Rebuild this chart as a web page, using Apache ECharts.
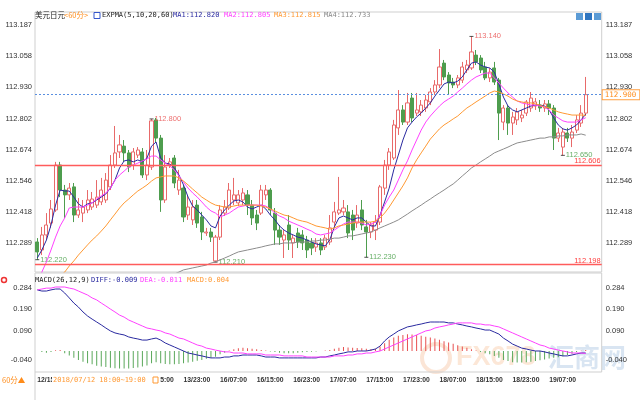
<!DOCTYPE html>
<html><head><meta charset="utf-8">
<script src="https://cdn.jsdelivr.net/npm/echarts@6/dist/echarts.min.js"></script>
<style>html,body{margin:0;padding:0;background:#fff}#c{width:640px;height:400px}</style>
</head><body><div id="c"></div>
<script>
// ---- categories (hourly bars) ----
const categories = [
'12/15:00','12/16:00','12/17:00','12/18:00','12/19:00','12/20:00','12/21:00','12/22:00','12/23:00',
'13/00:00','13/01:00','13/02:00','13/03:00','13/04:00','13/05:00','13/06:00','13/07:00','13/08:00','13/09:00','13/10:00','13/11:00','13/12:00','13/13:00','13/14:00','13/15:00','13/16:00','13/17:00','13/18:00','13/19:00','13/20:00','13/21:00','13/22:00','13/23:00',
'14/00:00','14/01:00','14/02:00','14/03:00','14/04:00',
'16/05:00','16/06:00','16/07:00','16/08:00','16/09:00','16/10:00','16/11:00','16/12:00','16/13:00','16/14:00','16/15:00','16/16:00','16/17:00','16/18:00','16/19:00','16/20:00','16/21:00','16/22:00','16/23:00',
'17/00:00','17/01:00','17/02:00','17/03:00','17/04:00','17/05:00','17/06:00','17/07:00','17/08:00','17/09:00','17/10:00','17/11:00','17/12:00','17/13:00','17/14:00','17/15:00','17/16:00','17/17:00','17/18:00','17/19:00','17/20:00','17/21:00','17/22:00','17/23:00',
'18/00:00','18/01:00','18/02:00','18/03:00','18/04:00','18/05:00','18/06:00','18/07:00','18/08:00','18/09:00','18/10:00','18/11:00','18/12:00','18/13:00','18/14:00','18/15:00','18/16:00','18/17:00','18/18:00','18/19:00','18/20:00','18/21:00','18/22:00','18/23:00',
'19/00:00','19/01:00','19/02:00','19/03:00','19/04:00','19/05:00','19/06:00','19/07:00','19/08:00','19/09:00','19/10:00','19/11:00','19/12:00','19/13:00','19/14:00','19/15:00',
'','',''];
const lastLabelIndex = 112;

// ---- OHLC ----
const open = [112.293,112.260,112.322,112.371,112.425,112.610,112.507,112.487,112.520,112.404,
112.412,112.425,112.437,112.445,112.458,112.466,112.520,112.610,112.664,112.688,
112.660,112.610,112.651,112.664,112.569,112.602,112.796,112.721,112.466,112.610,
112.639,112.507,112.515,112.404,112.384,112.445,112.396,112.330,112.334,112.215,
112.313,112.412,112.433,112.466,112.454,112.466,112.487,112.445,112.404,112.412,
112.487,112.507,112.412,112.342,112.301,112.363,112.289,112.330,112.322,112.301,
112.289,112.272,112.289,112.272,112.293,112.375,112.412,112.417,112.417,112.404,
112.371,112.425,112.355,112.334,112.342,112.375,112.515,112.610,112.639,112.763,
112.837,112.787,112.886,112.824,112.829,112.845,112.870,112.911,112.940,113.030,
112.981,112.952,112.940,112.960,113.002,113.010,113.063,113.051,113.014,112.969,
113.010,112.960,112.787,112.845,112.783,112.796,112.804,112.824,112.845,112.853,
112.857,112.845,112.862,112.845,112.721,112.684,112.742,112.721,112.754,112.783,
112.824];
const close = [112.252,112.322,112.363,112.429,112.610,112.507,112.487,112.515,112.404,112.425,
112.437,112.466,112.470,112.478,112.507,112.548,112.610,112.660,112.693,112.660,
112.602,112.664,112.672,112.569,112.610,112.792,112.721,112.466,112.602,112.623,
112.536,112.548,112.396,112.437,112.437,112.371,112.334,112.334,112.313,112.313,
112.425,112.437,112.507,112.487,112.487,112.495,112.445,112.392,112.371,112.507,
112.507,112.425,112.342,112.313,112.322,112.301,112.309,112.293,112.289,112.260,
112.268,112.289,112.260,112.309,112.351,112.417,112.425,112.433,112.330,112.342,
112.404,112.363,112.334,112.363,112.375,112.520,112.610,112.664,112.775,112.837,
112.787,112.866,112.804,112.837,112.857,112.878,112.911,112.940,113.014,112.973,
112.948,112.940,112.969,113.014,113.022,113.076,113.035,113.002,112.969,112.993,
112.952,112.824,112.845,112.783,112.808,112.829,112.816,112.870,112.886,112.870,
112.845,112.862,112.845,112.721,112.742,112.746,112.721,112.746,112.796,112.824,
112.900];
const low = [112.220,112.239,112.301,112.351,112.417,112.478,112.392,112.466,112.375,112.392,
112.375,112.412,112.425,112.433,112.445,112.454,112.507,112.598,112.639,112.623,
112.581,112.590,112.639,112.557,112.548,112.590,112.705,112.417,112.454,112.598,
112.515,112.487,112.375,112.384,112.363,112.351,112.301,112.318,112.293,112.210,
112.301,112.400,112.425,112.445,112.441,112.445,112.404,112.363,112.342,112.404,
112.466,112.404,112.281,112.281,112.227,112.260,112.227,112.268,112.260,112.227,
112.239,112.252,112.239,112.260,112.281,112.351,112.404,112.404,112.309,112.301,
112.351,112.342,112.230,112.309,112.301,112.363,112.487,112.590,112.631,112.734,
112.775,112.775,112.787,112.812,112.812,112.829,112.857,112.899,112.927,112.960,
112.899,112.927,112.927,112.948,112.989,113.002,113.022,112.989,112.960,112.952,
112.940,112.713,112.754,112.734,112.734,112.775,112.787,112.812,112.829,112.837,
112.829,112.829,112.816,112.672,112.705,112.650,112.705,112.684,112.742,112.767,
112.812];
const high = [112.309,112.355,112.412,112.466,112.623,112.623,112.528,112.536,112.536,112.474,
112.466,112.507,112.499,112.548,112.557,112.577,112.651,112.771,112.734,112.713,
112.672,112.680,112.684,112.680,112.672,112.800,112.804,112.734,112.651,112.639,
112.651,112.590,112.528,112.487,112.466,112.466,112.417,112.351,112.351,112.322,
112.445,112.466,112.536,112.557,112.507,112.515,112.507,112.466,112.425,112.528,
112.528,112.515,112.433,112.363,112.342,112.404,112.322,112.351,112.342,112.318,
112.309,112.309,112.309,112.322,112.404,112.458,112.561,112.466,112.445,112.425,
112.445,112.466,112.384,112.375,112.404,112.528,112.631,112.680,112.796,112.919,
112.857,112.907,112.907,112.907,112.878,112.899,112.927,112.960,113.088,113.043,
112.993,112.969,112.981,113.035,113.043,113.140,113.084,113.063,113.035,113.010,
113.035,112.969,112.857,112.857,112.829,112.845,112.837,112.878,112.911,112.886,
112.878,112.878,112.878,112.857,112.763,112.763,112.763,112.775,112.816,112.857,
112.973];

// ---- EXPMA lines ----
const ma1 = [112.227,112.260,112.301,112.363,112.445,112.507,112.503,112.503,112.478,112.450,
112.437,112.450,112.454,112.466,112.478,112.491,112.515,112.548,112.598,112.627,
112.631,112.623,112.631,112.623,112.639,112.688,112.705,112.639,112.618,112.614,
112.598,112.569,112.528,112.478,112.441,112.425,112.404,112.384,112.359,112.351,
112.400,112.425,112.445,112.462,112.466,112.458,112.437,112.429,112.437,112.445,
112.429,112.404,112.384,112.359,112.342,112.330,112.322,112.313,112.309,112.301,
112.293,112.285,112.281,112.277,112.301,112.355,112.392,112.400,112.392,112.384,
112.392,112.392,112.375,112.359,112.359,112.404,112.458,112.515,112.590,112.651,
112.713,112.763,112.787,112.808,112.824,112.845,112.866,112.894,112.919,112.944,
112.952,112.948,112.956,112.973,113.002,113.030,113.035,113.022,113.014,113.010,
112.993,112.944,112.890,112.853,112.837,112.829,112.837,112.845,112.853,112.857,
112.857,112.853,112.837,112.804,112.775,112.759,112.754,112.763,112.775,112.796,
112.820];
const ma2 = [112.116,112.169,112.211,112.260,112.313,112.359,112.392,112.433,112.437,112.437,
112.437,112.445,112.454,112.470,112.483,112.495,112.515,112.548,112.569,112.585,
112.602,112.610,112.618,112.627,112.635,112.647,112.647,112.631,112.618,112.606,
112.590,112.565,112.540,112.515,112.495,112.478,112.458,112.437,112.421,112.412,
112.396,112.404,112.412,112.425,112.437,112.441,112.445,112.445,112.445,112.445,
112.441,112.429,112.412,112.400,112.392,112.379,112.371,112.363,112.355,112.346,
112.338,112.326,112.322,112.326,112.330,112.342,112.355,112.367,112.375,112.375,
112.375,112.371,112.363,112.367,112.375,112.404,112.445,112.478,112.507,112.548,
112.590,112.627,112.672,112.713,112.754,112.787,112.812,112.833,112.853,112.870,
112.882,112.894,112.911,112.927,112.944,112.960,112.973,112.981,112.989,112.989,
112.969,112.948,112.927,112.907,112.890,112.874,112.866,112.862,112.857,112.857,
112.853,112.849,112.837,112.816,112.804,112.792,112.787,112.787,112.787,112.796,
112.805];
const ma3 = [112.033,112.062,112.087,112.108,112.132,112.153,112.169,112.194,112.215,112.239,
112.260,112.281,112.301,112.318,112.338,112.359,112.384,112.408,112.433,112.454,
112.470,112.487,112.503,112.515,112.528,112.544,112.557,112.561,112.565,112.565,
112.565,112.557,112.544,112.528,112.511,112.495,112.478,112.466,112.454,112.445,
112.441,112.437,112.437,112.441,112.445,112.445,112.445,112.445,112.445,112.441,
112.437,112.429,112.421,112.412,112.404,112.400,112.392,112.384,112.379,112.375,
112.367,112.359,112.355,112.351,112.346,112.351,112.359,112.363,112.367,112.371,
112.375,112.375,112.375,112.375,112.379,112.392,112.412,112.437,112.466,112.495,
112.524,112.557,112.598,112.631,112.660,112.688,112.717,112.738,112.759,112.775,
112.787,112.800,112.812,112.829,112.845,112.857,112.870,112.882,112.894,112.907,
112.915,112.911,112.903,112.894,112.882,112.874,112.870,112.866,112.866,112.862,
112.857,112.849,112.845,112.837,112.829,112.824,112.820,112.816,112.816,112.816,
112.815];
const ma4 = [null,null,null,null,null,null,null,null,null,null,
null,null,null,null,null,null,null,null,null,null,
null,null,null,null,null,null,null,null,null,null,
112.161,112.169,112.178,112.182,112.186,112.190,112.194,112.198,112.206,112.211,
112.219,112.227,112.235,112.244,112.252,112.256,112.260,112.264,112.268,112.272,
112.277,112.281,112.285,112.285,112.289,112.289,112.289,112.293,112.293,112.293,
112.297,112.297,112.301,112.301,112.305,112.309,112.309,112.313,112.318,112.318,
112.322,112.326,112.330,112.334,112.342,112.351,112.359,112.367,112.375,112.384,
112.396,112.408,112.421,112.433,112.445,112.458,112.470,112.483,112.495,112.507,
112.520,112.532,112.548,112.565,112.581,112.598,112.610,112.623,112.635,112.647,
112.660,112.668,112.676,112.684,112.693,112.701,112.705,112.709,112.713,112.717,
112.721,112.721,112.726,112.726,112.730,112.730,112.734,112.734,112.734,112.738,
112.733];

// ---- MACD(26,12,9) ----
const diff = [0.274,0.269,0.269,0.274,0.278,0.278,0.260,0.238,0.215,0.197,
0.175,0.157,0.143,0.130,0.117,0.103,0.090,0.081,0.076,0.072,
0.063,0.058,0.054,0.049,0.049,0.054,0.058,0.049,0.036,0.027,
0.018,0.009,0.000,-0.009,-0.013,-0.018,-0.022,-0.027,-0.031,-0.031,
-0.031,-0.027,-0.027,-0.022,-0.022,-0.018,-0.018,-0.018,-0.018,-0.022,
-0.027,-0.027,-0.027,-0.031,-0.031,-0.031,-0.031,-0.031,-0.031,-0.031,
-0.031,-0.031,-0.027,-0.027,-0.022,-0.018,-0.013,-0.009,-0.004,-0.004,
0.000,0.000,0.000,0.004,0.009,0.022,0.045,0.063,0.076,0.090,
0.099,0.108,0.112,0.117,0.121,0.126,0.130,0.130,0.130,0.130,
0.126,0.126,0.121,0.117,0.112,0.108,0.103,0.099,0.094,0.094,
0.085,0.076,0.058,0.045,0.031,0.022,0.013,0.009,0.004,0.000,
0.000,-0.004,-0.009,-0.013,-0.018,-0.022,-0.022,-0.018,-0.013,-0.009,
-0.009];
const dea = [0.274,0.278,0.282,0.282,0.287,0.287,0.287,0.282,0.278,0.269,
0.260,0.251,0.238,0.229,0.215,0.202,0.188,0.175,0.161,0.152,
0.139,0.130,0.121,0.112,0.103,0.099,0.094,0.090,0.081,0.076,
0.067,0.058,0.054,0.045,0.036,0.027,0.022,0.013,0.009,0.004,
0.000,-0.004,-0.004,-0.009,-0.009,-0.009,-0.013,-0.013,-0.013,-0.013,
-0.018,-0.018,-0.018,-0.018,-0.022,-0.022,-0.022,-0.022,-0.022,-0.027,
-0.027,-0.027,-0.027,-0.027,-0.027,-0.022,-0.022,-0.022,-0.018,-0.018,
-0.013,-0.013,-0.009,-0.009,-0.004,0.000,0.009,0.018,0.027,0.036,
0.045,0.054,0.063,0.072,0.081,0.090,0.094,0.103,0.108,0.112,
0.117,0.121,0.126,0.126,0.126,0.126,0.121,0.121,0.117,0.117,
0.112,0.108,0.099,0.090,0.081,0.072,0.063,0.054,0.045,0.036,
0.027,0.022,0.013,0.009,0.004,0.000,-0.004,-0.009,-0.009,-0.009,
-0.011];
const macd = [0.000,-0.005,-0.008,-0.005,0.003,0.004,-0.010,-0.020,-0.030,-0.040,
-0.048,-0.055,-0.060,-0.066,-0.070,-0.072,-0.075,-0.077,-0.078,-0.078,
-0.078,-0.076,-0.074,-0.070,-0.065,-0.055,-0.050,-0.055,-0.058,-0.060,
-0.060,-0.058,-0.055,-0.052,-0.048,-0.044,-0.040,-0.035,-0.030,-0.026,
-0.015,-0.008,0.002,0.008,0.012,0.014,0.012,0.010,0.008,0.005,
0.002,-0.002,-0.005,-0.008,-0.010,-0.010,-0.010,-0.008,-0.006,-0.004,
-0.003,-0.002,0.000,0.002,0.005,0.010,0.015,0.018,0.016,0.014,
0.013,0.012,0.010,0.008,0.010,0.020,0.035,0.050,0.060,0.068,
0.072,0.075,0.074,0.072,0.068,0.064,0.060,0.056,0.050,0.044,
0.038,0.032,0.026,0.020,0.014,0.008,0.002,-0.004,-0.010,-0.015,
-0.022,-0.030,-0.040,-0.045,-0.050,-0.052,-0.052,-0.050,-0.048,-0.045,
-0.042,-0.038,-0.034,-0.030,-0.028,-0.024,-0.018,-0.012,-0.005,0.001,
0.004];

// ---- axis ticks / reference levels / annotations ----
const priceTicks = [112.289,112.418,112.546,112.674,112.802,112.930,113.058,113.187];
const macdTicks = [-0.040,0.090,0.190,0.284];
const supportLevels = [112.606,112.198];
const lastPrice = 112.900;
const sideLabel = 112.792;
const extremeIdx = [0,25,39,72,95,115];
const extremeVal = [112.220,112.800,112.210,112.230,113.140,112.650];
const extremeIsHigh = [false,true,false,false,true,false];

const GREEN = '#3f9a3f', RED = '#e84c4c', LINE_RED = '#ff5c5c';
const MONO = '"DejaVu Sans Mono","Liberation Mono",monospace';
const SANS = '"Liberation Sans",Arial,sans-serif';
const CJK = '"Noto Sans CJK SC",sans-serif';

const chart = echarts.init(document.getElementById('c'), null, {renderer:'canvas'});
const candleData = open.map((o,i)=>[o, close[i], low[i], high[i]]);
const extremeData = extremeIdx.map((ix,k)=>({
  value:[ix, extremeVal[k]],
  label:{color: extremeIsHigh[k]? RED : GREEN}
}));

const G = {left:35, right:38.3};
const yLab = {fontSize:7.5, color:'#333', fontFamily:SANS};
const redLevel = (v)=>({
  yAxis:v, lineStyle:{color:LINE_RED, width:1.3, type:'solid', opacity:1},
  label:{show:true, position:'insideEndTop', distance:[1,0], formatter:v.toFixed(3), color:'#ff3b3b', fontSize:7.5, fontFamily:SANS}
});

chart.setOption({
  animation:false,
  backgroundColor:'#fff',
  grid:[
    {left:G.left, right:G.right, top:12, height:260, show:true, borderColor:'#cfcfcf', borderWidth:1},
    {left:G.left, right:G.right, top:273, height:99, show:true, borderColor:'#cfcfcf', borderWidth:1}
  ],
  xAxis:[
    {type:'category', gridIndex:0, data:categories, axisLine:{show:false}, axisTick:{show:false}, axisLabel:{show:false}, splitLine:{show:false}},
    {type:'category', gridIndex:1, data:categories, axisLine:{show:false}, axisTick:{show:false}, splitLine:{show:false},
     axisLabel:{interval:(i)=> i % 8 === 0 && i <= lastLabelIndex, align:'left', margin:5, fontSize:6.8, fontWeight:'bold', color:'#333', fontFamily:SANS}}
  ],
  yAxis:[
    {type:'value', gridIndex:0, position:'left', min:112.1693, max:113.2406, splitLine:{show:false}, axisLine:{show:false}, axisTick:{show:false},
     axisLabel:Object.assign({customValues:priceTicks, formatter:v=>v.toFixed(3), margin:3}, yLab)},
    {type:'value', gridIndex:0, position:'right', min:112.1693, max:113.2406, splitLine:{show:false}, axisLine:{show:false}, axisTick:{show:false},
     axisLabel:Object.assign({customValues:priceTicks, formatter:v=>v.toFixed(3), margin:4}, yLab)},
    {type:'value', gridIndex:1, position:'left', min:-0.0942, max:0.3498, splitLine:{show:false}, axisLine:{show:false}, axisTick:{show:false},
     axisLabel:Object.assign({customValues:macdTicks, formatter:v=>v.toFixed(3), margin:3}, yLab)},
    {type:'value', gridIndex:1, position:'right', min:-0.0942, max:0.3498, splitLine:{show:false}, axisLine:{show:false}, axisTick:{show:false},
     axisLabel:Object.assign({customValues:macdTicks, formatter:v=>v.toFixed(3), margin:4}, yLab)}
  ],
  series:[
    {type:'candlestick', xAxisIndex:0, yAxisIndex:0, data:candleData, barWidth:3.6,
     itemStyle:{color:'#ffffff', color0:'#4e9d4e', borderColor:'#e86a6a', borderColor0:'#4e9d4e', borderWidth:1}},
    {type:'line', name:'MA1', xAxisIndex:0, yAxisIndex:0, data:ma1, symbol:'none', lineStyle:{color:'#2a2aa0', width:1},
     markLine:{silent:true, symbol:['none','none'], animation:false, data:[redLevel(supportLevels[1])]}},
    {type:'line', name:'MA2', xAxisIndex:0, yAxisIndex:0, data:ma2, symbol:'none', lineStyle:{color:'#ff40ff', width:1},
     markLine:{silent:true, symbol:['none','none'], animation:false, data:[redLevel(supportLevels[0])]}},
    {type:'line', name:'MA3', xAxisIndex:0, yAxisIndex:0, data:ma3, symbol:'none', lineStyle:{color:'#ff9933', width:1},
     markLine:{silent:true, symbol:['none','none'], animation:false,
       data:[{yAxis:sideLabel, lineStyle:{opacity:0},
          label:{show:true, position:'end', distance:3, formatter:sideLabel.toFixed(3), color:'#ff8c1a', fontSize:7.5, fontFamily:MONO}}]}},
    {type:'line', name:'MA4', xAxisIndex:0, yAxisIndex:0, data:ma4, symbol:'none', lineStyle:{color:'#8c8c8c', width:1},
     markLine:{silent:true, symbol:['none','none'], animation:false,
       data:[{yAxis:lastPrice, lineStyle:{color:'#5a8fe0', width:1, type:[2,2], opacity:1},
          label:{show:true, position:'end', distance:1, formatter:lastPrice.toFixed(3), color:'#ff8c1a', fontSize:7.5, fontFamily:MONO,
                 borderColor:'#ff9f40', borderWidth:1, padding:[1,3,0,2], backgroundColor:'#fff'}}]}},
    {type:'scatter', xAxisIndex:0, yAxisIndex:0, data:extremeData, symbol:'rect', symbolSize:[4,1], itemStyle:{color:'#222'},
     label:{show:true, position:'right', distance:1, fontSize:7.5, fontFamily:SANS, formatter:p=>p.value[1].toFixed(3)}},
    {type:'bar', xAxisIndex:1, yAxisIndex:2, data:macd, barWidth:1,
     itemStyle:{color:p=>p.value>=0?'#e85050':'#5aa85a'}},
    {type:'line', name:'DIFF', xAxisIndex:1, yAxisIndex:2, data:diff, symbol:'none', lineStyle:{color:'#2a2aa0', width:1}},
    {type:'line', name:'DEA', xAxisIndex:1, yAxisIndex:2, data:dea, symbol:'none', lineStyle:{color:'#ff40ff', width:1}}
  ],
  graphic:[
    {type:'text', left:35, top:11, z:100, style:{text:'美元日元', fontSize:7.5, fill:'#222', fontFamily:CJK}},
    {type:'text', left:64, top:11, z:100, style:{text:'<60分>', fontSize:7.5, fill:'#ff8c1a', fontFamily:CJK}},
    {type:'rect', z:100, shape:{x:94, y:12.5, width:6, height:6}, style:{fill:'#fff', stroke:'#3355cc', lineWidth:1}},
    {type:'text', left:102, top:12, z:100, style:{text:'EXPMA(5,10,20,60)', fontSize:7, fill:'#222', fontFamily:MONO}},
    {type:'text', left:173, top:12, z:100, style:{text:'MA1:112.820', fontSize:7, fill:'#2a2aa0', fontFamily:MONO}},
    {type:'text', left:224, top:12, z:100, style:{text:'MA2:112.805', fontSize:7, fill:'#ff40ff', fontFamily:MONO}},
    {type:'text', left:274, top:12, z:100, style:{text:'MA3:112.815', fontSize:7, fill:'#ff9933', fontFamily:MONO}},
    {type:'text', left:324, top:12, z:100, style:{text:'MA4:112.733', fontSize:7, fill:'#888', fontFamily:MONO}},
    {type:'rect', z:100, shape:{x:576, y:13, width:7, height:7}, style:{fill:'#5b9bd5'}},
    {type:'rect', z:100, shape:{x:585, y:13, width:7, height:7}, style:{fill:'#2f75c0'}},
    {type:'rect', z:100, shape:{x:594, y:13, width:7, height:7}, style:{fill:'#5b9bd5'}},
    {type:'circle', z:100, shape:{cx:4, cy:280, r:2.5}, style:{fill:'#fff', stroke:'#e33', lineWidth:1.5}},
    {type:'text', left:35, top:277, z:100, style:{text:'MACD(26,12,9)', fontSize:7, fill:'#222', fontFamily:MONO}},
    {type:'text', left:91, top:277, z:100, style:{text:'DIFF:-0.009', fontSize:7, fill:'#2a2aa0', fontFamily:MONO}},
    {type:'text', left:140, top:277, z:100, style:{text:'DEA:-0.011', fontSize:7, fill:'#ff40ff', fontFamily:MONO}},
    {type:'text', left:187, top:277, z:100, style:{text:'MACD:0.004', fontSize:7, fill:'#ff9933', fontFamily:MONO}},
    {type:'line', z:100, shape:{x1:35, y1:372, x2:35, y2:400}, style:{stroke:'#cfcfcf'}},
    {type:'text', left:2, top:376, z:100, style:{text:'60分▲', fontSize:7.5, fill:'#ff8c1a', fontFamily:CJK}},
    {type:'rect', z:100, shape:{x:52, y:374, width:108, height:13}, style:{fill:'#fff'}},
    {type:'text', left:53, top:376.5, z:101, style:{text:'2018/07/12 18:00~19:00', fontSize:7, fill:'#ff9933', fontFamily:MONO}},
    {type:'rect', z:101, shape:{x:153, y:377, width:5, height:6}, style:{fill:'#fff', stroke:'#ff9933', lineWidth:1}},
    {type:'circle', z:-1, shape:{cx:436, cy:358, r:14}, style:{fill:'none', stroke:'rgba(240,150,90,0.25)', lineWidth:4}},
    {type:'text', left:456, top:344, z:-1, style:{text:'FX678', fontSize:27, fontWeight:'bold', fill:'rgba(245,170,110,0.28)', fontFamily:SANS}},
    {type:'text', left:548, top:344, z:-1, style:{text:'汇商网', fontSize:26, fontWeight:'bold', fill:'rgba(120,160,210,0.28)', fontFamily:CJK}}
  ]
});
</script></body></html>
